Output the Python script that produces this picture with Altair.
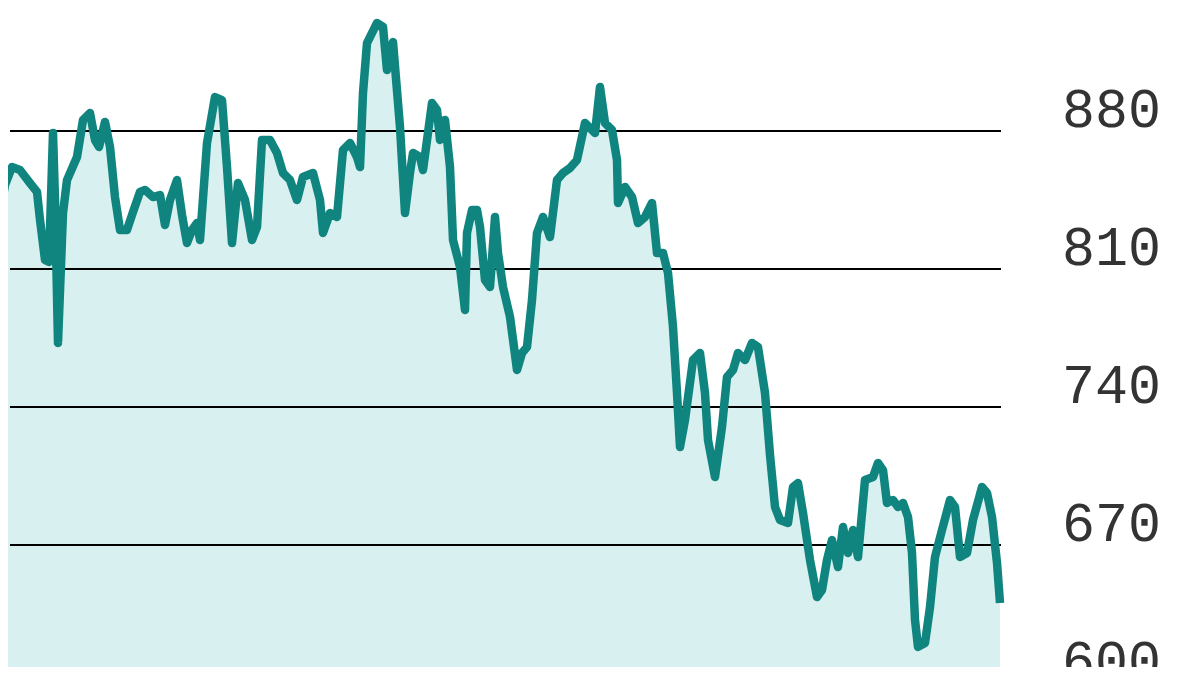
import altair as alt
import pandas as pd

# trading-day index (0..1000) and index level
day = [0, 5, 12, 20, 30, 37, 40, 45, 49, 53, 55, 58, 63, 67, 77, 83, 90, 95, 99, 105,
       110, 115, 120, 127, 133, 140, 145, 153, 160, 165, 170, 177, 182, 187, 192, 197, 200, 207, 215, 222,
       227, 232, 238, 245, 252, 257, 262, 270, 277, 283, 290, 297, 303, 313, 320, 323, 330, 337, 343, 350,
       357, 360, 363, 367, 377, 383, 387, 393, 400, 405, 410, 413, 420, 423, 432, 437, 440, 445, 450, 453,
       460, 465, 467, 472, 477, 480, 485, 490, 495, 498, 503, 510, 517, 522, 527, 532, 537, 543, 550, 557,
       563, 570, 577, 585, 595, 600, 605, 612, 617, 618, 625, 632, 638, 645, 652, 657, 663, 668, 673, 677,
       680, 685, 693, 700, 705, 708, 715, 722, 727, 733, 738, 745, 752, 758, 765, 770, 775, 780, 788, 793,
       798, 803, 810, 817, 822, 827, 832, 838, 843, 848, 853, 858, 865, 873, 878, 883, 887, 893, 898, 903,
       908, 912, 915, 918, 925, 930, 935, 942, 950, 955, 960, 967, 973, 982, 987, 992, 997, 1000]

level = [838.4, 852.6, 861.7, 860.2, 853.6, 849.1, 834.9, 814.6, 813.6, 879.0, 845.0, 772.5, 838.4, 855.1, 866.8, 885.6, 889.1, 875.4, 871.9, 884.6,
         871.9, 846.5, 829.8, 829.8, 838.9, 849.1, 850.1, 846.5, 847.5, 832.3, 845.0, 855.1, 837.4, 823.2, 829.8, 833.3, 824.7, 873.9, 897.2, 895.7,
         861.7, 823.2, 853.6, 845.0, 824.7, 831.3, 875.4, 875.4, 868.8, 858.7, 855.1, 845.0, 856.7, 858.7, 845.0, 828.3, 838.4, 836.4, 870.4, 873.9,
         866.8, 861.7, 899.3, 924.6, 934.8, 932.8, 910.9, 925.1, 882.0, 838.4, 858.7, 868.8, 866.8, 860.2, 894.2, 890.7, 875.4, 885.6, 861.7, 824.7,
         811.0, 789.2, 828.3, 839.9, 839.9, 831.3, 804.4, 800.9, 836.4, 818.1, 800.9, 785.7, 758.8, 767.4, 770.4, 794.3, 828.3, 836.4, 826.2, 855.1,
         858.7, 861.2, 865.3, 884.1, 879.0, 902.3, 884.1, 880.5, 865.3, 843.5, 851.6, 846.5, 833.3, 836.4, 843.5, 818.1, 818.1, 808.0, 780.6, 747.1,
         719.7, 733.4, 763.8, 767.4, 747.1, 723.3, 704.5, 729.9, 755.2, 758.8, 767.4, 763.8, 772.5, 770.4, 747.1, 715.7, 689.3, 682.7, 681.2, 699.4,
         701.4, 686.2, 662.4, 643.6, 647.2, 662.4, 672.5, 658.8, 679.1, 665.9, 677.6, 663.9, 703.0, 704.5, 711.6, 708.0, 691.3, 692.8, 689.3, 691.3,
         684.2, 665.9, 632.0, 618.3, 620.3, 638.5, 663.9, 677.6, 692.8, 689.3, 663.9, 665.9, 682.7, 699.4, 696.4, 684.2, 660.9, 640.6]

ticks = [880, 810, 740, 670, 600]

W, H = 1184, 659
Y_DOMAIN = [608.11, 942.39]
X_DOMAIN = [8, 1192]

df = pd.DataFrame({"day": day, "level": level})
tdf = pd.DataFrame({"tick": ticks, "label": [str(t) for t in ticks]})

xs = alt.Scale(domain=X_DOMAIN, nice=False, zero=False)
ys = alt.Scale(domain=Y_DOMAIN, nice=False, zero=False)

area = alt.Chart(df).mark_area(color="#d9f0f0", clip=False).encode(
    x=alt.X("day:Q", scale=xs, axis=None),
    y=alt.Y("level:Q", scale=ys, axis=None),
    y2=alt.value(H),
)

rules = alt.Chart(tdf).mark_rule(color="#000000", strokeWidth=2.2).encode(
    y=alt.Y("tick:Q", scale=ys, axis=None),
    x=alt.value(2),
    x2=alt.value(993),
)

line = alt.Chart(df).mark_line(color="#10857f", strokeWidth=8.5, strokeJoin="round", strokeCap="butt").encode(
    x=alt.X("day:Q", scale=xs, axis=None),
    y=alt.Y("level:Q", scale=ys, axis=None),
)

labels = alt.Chart(tdf).mark_text(
    align="left", baseline="alphabetic", dy=-4,
    font="Liberation Mono", fontSize=55, color="#333333",
).encode(
    y=alt.Y("tick:Q", scale=ys, axis=None),
    x=alt.value(1054),
    text="label:N",
)

chart = alt.layer(area, rules, line, labels).properties(
    width=W, height=H,
    autosize=alt.AutoSizeParams(type="none"),
    padding=0,
    background="#ffffff",
).configure_view(stroke=None)

chart.save("out.html", embed_options={"renderer": "svg", "actions": False})
